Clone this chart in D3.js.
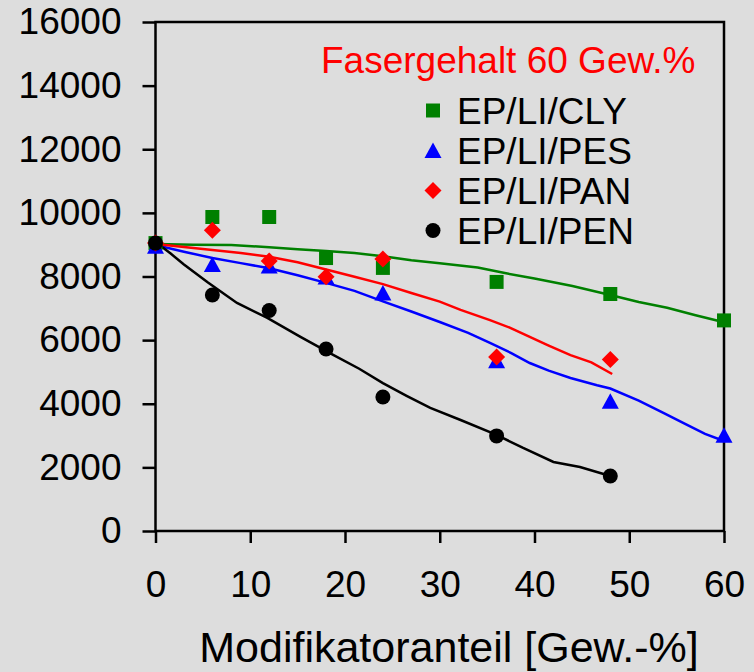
<!DOCTYPE html>
<html>
<head>
<meta charset="utf-8">
<script src="https://cdn.jsdelivr.net/npm/d3@7"></script>
<style>
  body { margin: 0; background: #dddddd; }
  text { font-family: "Liberation Sans", Arial, sans-serif; }
</style>
</head>
<body>
<div id="viz"></div>
<script>
// measured points
var clyX = [0, 6, 12, 18, 24, 36, 48, 60],
    clyY = [9050, 9870, 9870, 8580, 8270, 7830, 7450, 6620];
var pesX = [0, 6, 12, 18, 24, 36, 48, 60],
    pesY = [8950, 8380, 8330, 7985, 7480, 5350, 4080, 3010];
var panX = [0, 6, 12, 18, 24, 36, 48],
    panY = [9050, 9450, 8490, 7990, 8550, 5470, 5390];
var penX = [0, 6, 12, 18, 24, 36, 48],
    penY = [9050, 7420, 6930, 5720, 4210, 2990, 1730];

// model curves
var clyLineX = [0, 4, 8, 12, 15, 18, 21, 24, 27, 30, 34, 37, 40, 44, 48, 51, 54, 57, 60],
    clyLineY = [9020, 9000, 8990, 8920, 8860, 8800, 8740, 8640, 8510, 8420, 8280, 8100, 7940, 7700, 7420, 7200, 7020, 6780, 6560];
var pesLineX = [0, 3, 6, 9, 12, 15, 18, 21, 24, 27, 30, 33, 35.3, 37.5, 39.5, 41.5, 43.8, 46.6, 48, 51, 53.6, 56, 58, 60],
    pesLineY = [8990, 8780, 8580, 8420, 8260, 8040, 7800, 7550, 7220, 6900, 6570, 6230, 5910, 5600, 5280, 5040, 4810, 4580, 4480, 4100, 3710, 3350, 3050, 2830];
var panLineX = [0, 3, 6, 9, 12, 15, 18, 21, 24, 27, 30, 32.2, 35.3, 37.5, 39.5, 41.5, 43.8, 46, 48.2],
    panLineY = [9020, 8930, 8830, 8740, 8620, 8450, 8220, 7990, 7760, 7480, 7210, 6950, 6630, 6380, 6100, 5830, 5530, 5300, 4935];
var penLineX = [0, 0.8, 1.6, 3, 5.5, 8.6, 11.8, 15.3, 18.8, 21.5, 24, 26.5, 29, 32.2, 36, 38.8, 42, 44.8, 48],
    penLineY = [9050, 8900, 8720, 8380, 7820, 7170, 6700, 6100, 5530, 5100, 4650, 4250, 3870, 3490, 3020, 2610, 2170, 2010, 1730];

var seriesNames = ['EP/LI/CLY', 'EP/LI/PES', 'EP/LI/PAN', 'EP/LI/PEN'];
var seriesColors = ['#008000', '#0000ff', '#ff0000', '#000000'];
var xTicks = [0, 10, 20, 30, 40, 50, 60];
var yTicks = [0, 2000, 4000, 6000, 8000, 10000, 12000, 14000, 16000];
var titleText = 'Fasergehalt 60 Gew.%';
var xLabel = 'Modifikatoranteil [Gew.-%]';

var width = 754, height = 672;
var plotLeft = 155.5, plotRight = 724, plotTop = 22, plotBottom = 531;

var series = [
  { name: seriesNames[0], color: seriesColors[0], shape: 'square',   x: clyX, y: clyY, lx: clyLineX, ly: clyLineY },
  { name: seriesNames[1], color: seriesColors[1], shape: 'triangle', x: pesX, y: pesY, lx: pesLineX, ly: pesLineY },
  { name: seriesNames[2], color: seriesColors[2], shape: 'diamond',  x: panX, y: panY, lx: panLineX, ly: panLineY },
  { name: seriesNames[3], color: seriesColors[3], shape: 'circle',   x: penX, y: penY, lx: penLineX, ly: penLineY }
];

// marker shapes (fixed pixel dims, centred on bbox)
var shapes = {
  square:   { draw: function(c) { c.rect(-7, -7, 14, 14); } },
  triangle: { draw: function(c) { c.moveTo(0, -8); c.lineTo(8.5, 7.5); c.lineTo(-8.5, 7.5); c.closePath(); } },
  diamond:  { draw: function(c) { c.moveTo(0, -8.5); c.lineTo(8.5, 0); c.lineTo(0, 8.5); c.lineTo(-8.5, 0); c.closePath(); } },
  circle:   { draw: function(c) { c.moveTo(7.5, 0); c.arc(0, 0, 7.5, 0, 2 * Math.PI); } }
};

var xScale = d3.scaleLinear().domain([0, 60]).range([plotLeft, plotRight]);
var yScale = d3.scaleLinear().domain([0, 16000]).range([plotBottom, plotTop]);

var svg = d3.select('#viz').append('svg')
  .attr('width', width)
  .attr('height', height);

svg.append('rect')
  .attr('width', width).attr('height', height)
  .attr('fill', '#dddddd');

// axes
var yAxis = d3.axisLeft(yScale).tickValues(yTicks).tickFormat(d3.format('d'))
  .tickSize(13).tickSizeOuter(0).tickPadding(21);
var xAxis = d3.axisBottom(xScale).tickValues(xTicks).tickFormat(d3.format('d'))
  .tickSize(12).tickSizeOuter(0).tickPadding(28);

var yG = svg.append('g').attr('transform', 'translate(' + plotLeft + ',0)').call(yAxis);
var xG = svg.append('g').attr('transform', 'translate(0,' + plotBottom + ')').call(xAxis);

[yG, xG].forEach(function(g) {
  g.select('.domain').remove();
  g.selectAll('line').attr('stroke', '#000').attr('stroke-width', 2.5);
  g.selectAll('text')
    .attr('fill', '#000')
    .style('font-size', '37px')
    .style('font-family', '"Liberation Sans", Arial, sans-serif');
});

// frame
svg.append('rect')
  .attr('x', plotLeft).attr('y', plotTop)
  .attr('width', plotRight - plotLeft).attr('height', plotBottom - plotTop)
  .attr('fill', 'none')
  .attr('stroke', '#000')
  .attr('stroke-width', 2.5);

// curves
var line = d3.line()
  .x(function(d) { return xScale(d[0]); })
  .y(function(d) { return yScale(d[1]); });

series.forEach(function(s) {
  svg.append('path')
    .datum(d3.zip(s.lx, s.ly))
    .attr('d', line)
    .attr('fill', 'none')
    .attr('stroke', s.color)
    .attr('stroke-width', 2.5);
});

// markers
series.forEach(function(s) {
  svg.append('g').selectAll('path')
    .data(d3.zip(s.x, s.y))
    .enter().append('path')
      .attr('d', d3.symbol().type(shapes[s.shape]))
      .attr('transform', function(d) {
        return 'translate(' + xScale(d[0]) + ',' + yScale(d[1]) + ')';
      })
      .attr('fill', s.color);
});

// title
svg.append('text')
  .attr('x', 321).attr('y', 73)
  .attr('fill', '#ff0000')
  .style('font-size', '37px')
  .text(titleText);

// legend
var legend = svg.append('g').selectAll('g')
  .data(series)
  .enter().append('g')
    .attr('transform', function(d, i) { return 'translate(433,' + (110.5 + i * 40) + ')'; });

legend.append('path')
  .attr('d', function(d) { return d3.symbol().type(shapes[d.shape])(); })
  .attr('fill', function(d) { return d.color; });

legend.append('text')
  .attr('x', 24).attr('y', 13)
  .attr('fill', '#000')
  .style('font-size', '37px')
  .text(function(d) { return d.name; });

// x axis title
svg.append('text')
  .attr('x', 449).attr('y', 662)
  .attr('text-anchor', 'middle')
  .attr('fill', '#000')
  .style('font-size', '43px')
  .text(xLabel);
</script>
</body>
</html>
